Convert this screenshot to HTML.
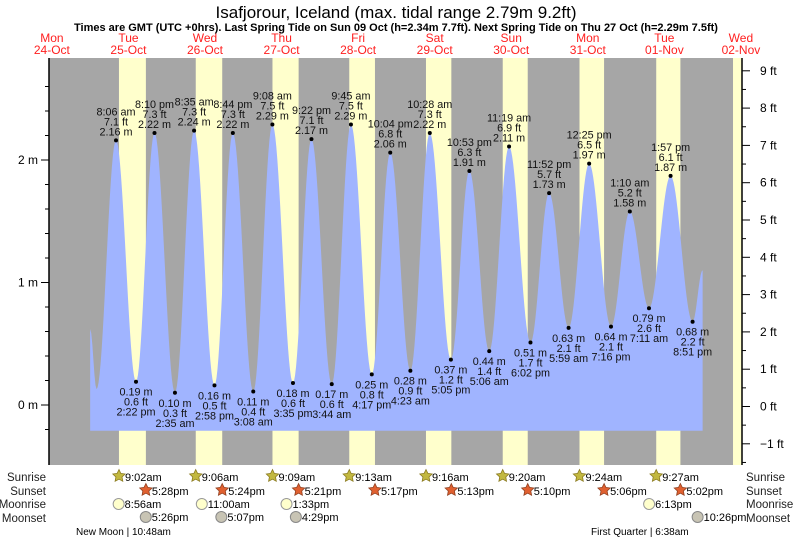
<!DOCTYPE html>
<html><head><meta charset="utf-8"><style>
body{margin:0;background:#fff}
svg{display:block;font-family:"Liberation Sans",sans-serif}
</style></head><body>
<svg id="c" width="793" height="539" viewBox="0 0 793 539">
<text x="396" y="18" text-anchor="middle" font-size="17">Isafjorour, Iceland (max. tidal range 2.79m 9.2ft)</text>
<text x="396" y="31" text-anchor="middle" font-size="11" font-weight="bold">Times are GMT (UTC +0hrs). Last Spring Tide on Sun 09 Oct (h=2.34m 7.7ft). Next Spring Tide on Thu 27 Oct (h=2.29m 7.5ft)</text>
<g id="g"></g>
</svg>
<script>
const dayNames=["Mon","Tue","Wed","Thu","Fri","Sat","Sun","Mon","Tue","Wed"];
const dayDates=["24-Oct","25-Oct","26-Oct","27-Oct","28-Oct","29-Oct","30-Oct","31-Oct","01-Nov","02-Nov"];
// tide extremes: hours since Oct 24 00:00, metres, ft, label
const tideHours=[24,26.0,32.1,38.37,44.17,50.58,56.58,62.97,68.73,75.13,81.13,87.58,93.37,99.73,105.75,112.28,118.07,124.38,130.47,137.08,142.88,149.1,155.32,162.03,167.87,173.98,180.42,187.27,193.17,199.18,205.95,212.85,216];
const tideHeights=[0.62,0.13,2.16,0.19,2.22,0.10,2.24,0.16,2.22,0.11,2.29,0.18,2.17,0.17,2.29,0.25,2.06,0.28,2.22,0.37,1.91,0.44,2.11,0.51,1.73,0.63,1.97,0.64,1.58,0.79,1.87,0.68,1.1];
const tideFeet=["","","7.1 ft","0.6 ft","7.3 ft","0.3 ft","7.3 ft","0.5 ft","7.3 ft","0.4 ft","7.5 ft","0.6 ft","7.1 ft","0.6 ft","7.5 ft","0.8 ft","6.8 ft","0.9 ft","7.3 ft","1.2 ft","6.3 ft","1.4 ft","6.9 ft","1.7 ft","5.7 ft","2.1 ft","6.5 ft","2.1 ft","5.2 ft","2.6 ft","6.1 ft","2.2 ft",""];
const tideTimes=["","","8:06 am","2:22 pm","8:10 pm","2:35 am","8:35 am","2:58 pm","8:44 pm","3:08 am","9:08 am","3:35 pm","9:22 pm","3:44 am","9:45 am","4:17 pm","10:04 pm","4:23 am","10:28 am","5:05 pm","10:53 pm","5:06 am","11:19 am","6:02 pm","11:52 pm","5:59 am","12:25 pm","7:16 pm","1:10 am","7:11 am","1:57 pm","8:51 pm",""];
// per day from Oct 25 (day index 1) to Nov 2
const sunriseH=[9.03,9.1,9.15,9.22,9.27,9.33,9.4,9.45,9.52];
const sunsetH=[17.47,17.4,17.35,17.28,17.22,17.17,17.1,17.03,16.97];
const sunriseTxt=["9:02am","9:06am","9:09am","9:13am","9:16am","9:20am","9:24am","9:27am"];
const sunsetTxt=["5:28pm","5:24pm","5:21pm","5:17pm","5:13pm","5:10pm","5:06pm","5:02pm"];
const moonriseHours=[32.93,59.0,85.55,199.22];
const moonriseTxt=["8:56am","11:00am","1:33pm","6:13pm"];
const moonsetHours=[41.43,65.12,88.48,214.43];
const moonsetTxt=["5:26pm","5:07pm","4:29pm","10:26pm"];

const X0=13.6, PH=3.19;
const xs=h=>X0+h*PH;
const ys=m=>405-m*122.5;
const L=49,R=742,T=58,B=465;
const NS="http://www.w3.org/2000/svg";
const g=document.getElementById('g');
function el(t,a,p){const e=document.createElementNS(NS,t);for(const k in a)e.setAttribute(k,a[k]);(p||g).appendChild(e);return e;}
function txt(x,y,s,a){const e=el('text',Object.assign({x:x,y:y,'font-size':11},a||{}));e.textContent=s;return e;}

const bg=el('rect',{x:L,y:T,width:R-L,height:B-T,fill:'#a6a6a6'});


for(let i=0;i<sunriseH.length;i++){
  const x1=xs(24*(i+1)+sunriseH[i]), x2=Math.min(R,xs(24*(i+1)+sunsetH[i]));
  const r=el('rect',{x:x1,y:T,width:x2-x1,height:B-T,fill:'#ffffcc'});
  
  
}
let d='';
const x0=xs(tideHours[0]),xe=xs(tideHours[tideHours.length-1]);
const base=ys(-0.21);
d='M'+x0+','+base;
for(let i=0;i<tideHours.length-1;i++){
  const h0=tideHours[i],h1=tideHours[i+1],v0=tideHeights[i],v1=tideHeights[i+1];
  const n=Math.max(4,Math.round((h1-h0)*PH));
  for(let k=0;k<=n;k++){const t=k/n;const v=v0+(v1-v0)*(1-Math.cos(Math.PI*t))/2;d+=' L'+xs(h0+(h1-h0)*t).toFixed(2)+','+ys(v).toFixed(2);}
}
d+=' L'+xe+','+base+' Z';
const tp=el('path',{d:d,fill:'#a0b4ff'});


for(let i=0;i<tideHours.length;i++){
  if(!tideTimes[i])continue;
  const x=xs(tideHours[i]),y=ys(tideHeights[i]);
  const c=el('circle',{cx:x,cy:y,r:2,fill:'#000'});
  
  
  const hi=tideHeights[i]>1;
  const m=tideHeights[i].toFixed(2)+' m';
  const lines=hi?[tideTimes[i],tideFeet[i],m]:[m,tideFeet[i],tideTimes[i]];
  const y0=hi?y-25:y+14;
  lines.forEach((s,j)=>{const t=txt(x,y0+j*10,s,{'text-anchor':'middle','font-size':10.8,fill:'#111'});
    
    });
}
const la=el('line',{x1:L,y1:T,x2:L,y2:B,stroke:'#000','stroke-width':1.5});


const ra=el('line',{x1:R,y1:T,x2:R,y2:B,stroke:'#000','stroke-width':1.5});


for(let v=-0.2;v<=2.7;v+=0.2){const y=ys(v);if(y<T||y>B)continue;const maj=Math.abs(v-Math.round(v))<0.01;
  el('line',{x1:maj?L-8:L-4,y1:y,x2:L,y2:y,stroke:'#000'});
  if(maj){const t=txt(38,y+4,Math.round(v)+' m',{'text-anchor':'end','font-size':12});}}
for(let f=-1.5;f<=9.5;f+=0.5){const y=406.5-f*37.3;if(y<T||y>B)continue;const maj=f%1===0;
  el('line',{x1:R,y1:y,x2:maj?R+8:R+4,y2:y,stroke:'#000'});
  if(maj){const t=txt(760,y+4,(f<0?'\u22121':f)+' ft',{'font-size':12});}}
for(let i=0;i<dayNames.length;i++){const x=xs(24*i+12);
  const a=txt(x,42,dayNames[i],{'text-anchor':'middle','font-size':12,fill:'#ff2020'});
  const b=txt(x,54,dayDates[i],{'text-anchor':'middle','font-size':12,fill:'#ff2020'});}
function star(x,y,fill,stroke){let p='';for(let k=0;k<10;k++){const r=k%2?3.2:6.5,a=-Math.PI/2+k*Math.PI/5;p+=(x+r*Math.cos(a)).toFixed(1)+','+(y+r*Math.sin(a)).toFixed(1)+' ';}return el('polygon',{points:p,fill:fill,stroke:stroke,'stroke-width':0.8});}
const rows=[["Sunrise",477],["Sunset",491],["Moonrise",504],["Moonset",518]];
rows.forEach(r=>{const a=txt(46,r[1]+4,r[0],{'text-anchor':'end','font-size':11.5,fill:'#222'});
  const b=txt(746,r[1]+4,r[0],{'font-size':11.5,fill:'#222'});});
for(let i=0;i<sunriseTxt.length;i++){
  const x=xs(24*(i+1)+sunriseH[i]);const s=star(x,476,'#c2b840','#8a7a20');
  const t=txt(x+6,481,sunriseTxt[i],{'font-size':11});
  const x2=xs(24*(i+1)+sunsetH[i]);const s2=star(x2,490,'#e06030','#904020');
  const t2=txt(x2+6,495,sunsetTxt[i],{'font-size':11});
}
for(let i=0;i<moonriseHours.length;i++){const x=xs(moonriseHours[i]);
  const c=el('circle',{cx:x,cy:504,r:5.5,fill:'#ffffcc',stroke:'#999'});
  const t=txt(x+6,508,moonriseTxt[i],{'font-size':11});}
for(let i=0;i<moonsetHours.length;i++){const x=xs(moonsetHours[i]);
  const c=el('circle',{cx:x,cy:517,r:5.5,fill:'#c8c4b4',stroke:'#888'});
  const t=txt(x+6,521,moonsetTxt[i],{'font-size':11});}
const nm=txt(76,535,'New Moon | 10:48am',{'font-size':10});
const fq=txt(591,535,'First Quarter | 6:38am',{'font-size':10});
</script>
</body></html>
